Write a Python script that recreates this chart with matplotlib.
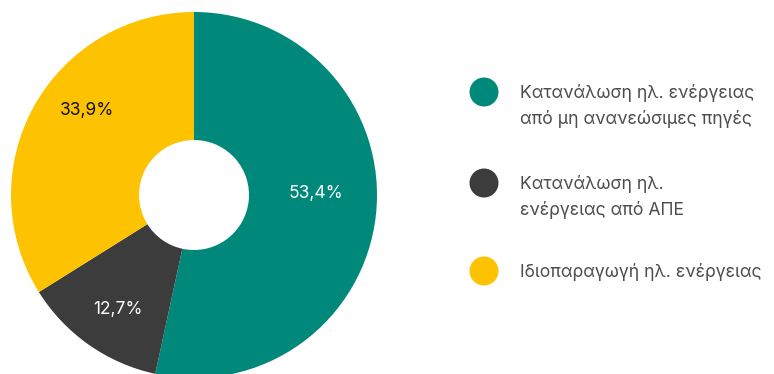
import matplotlib as mpl
import matplotlib.pyplot as plt
from matplotlib.patches import Circle

mpl.use('agg')
plt.rcParams['font.family'] = ['Inter', 'DejaVu Sans']

# shares of electricity consumption, clockwise from 12 o'clock
shares = [53.4, 12.7, 33.9]
share_labels = ["53,4%", "12,7%", "33,9%"]
legend_lines = [
    ["Κατανάλωση ηλ. ενέργειας", "από μη ανανεώσιμες πηγές"],
    ["Κατανάλωση ηλ.", "ενέργειας από ΑΠΕ"],
    ["Ιδιοπαραγωγή ηλ. ενέργειας"],
]
colors = ["#00887b", "#3c3c3c", "#fdc300"]
label_colors = ["white", "white", "#111111"]
# where each percentage sits, in pie units (x, y)
label_pos = [(0.668, 0.01), (-0.415, -0.625), (-0.585, 0.46)]

W, H = 774, 374
fig = plt.figure(figsize=(W / 100, H / 100), dpi=100)

# donut: center (194, 195) px, outer radius 183 px, hole radius 55 px
cx, cy, r = 194, 195, 183
ax = fig.add_axes([(cx - r) / W, (H - cy - r) / H, 2 * r / W, 2 * r / H])
wedges, _ = ax.pie(shares, colors=colors, startangle=90, counterclock=False,
                   radius=1.0, wedgeprops=dict(width=1 - 55 / 183, linewidth=0))
for (x, y), txt, c in zip(label_pos, share_labels, label_colors):
    ax.text(x, y, txt, ha='center', va='center', fontsize=12.5, color=c)
ax.set_xlim(-1, 1)
ax.set_ylim(-1, 1)
ax.set_aspect('equal')
ax.axis('off')

# legend drawn by hand in pixel coordinates
lg = fig.add_axes([0, 0, 1, 1], zorder=-1)
lg.set_xlim(0, W)
lg.set_ylim(H, 0)
lg.axis('off')
dot_y = [92, 183, 271]
for y, lines, c in zip(dot_y, legend_lines, colors):
    lg.add_patch(Circle((484, y), 14.5, color=c, linewidth=0))
    for i, line in enumerate(lines):
        lg.text(520, y + 6 + 26 * i, line, ha='left', va='baseline',
                fontsize=12.7, color='#4d4d4d')

fig.savefig("out.png", dpi=100)
